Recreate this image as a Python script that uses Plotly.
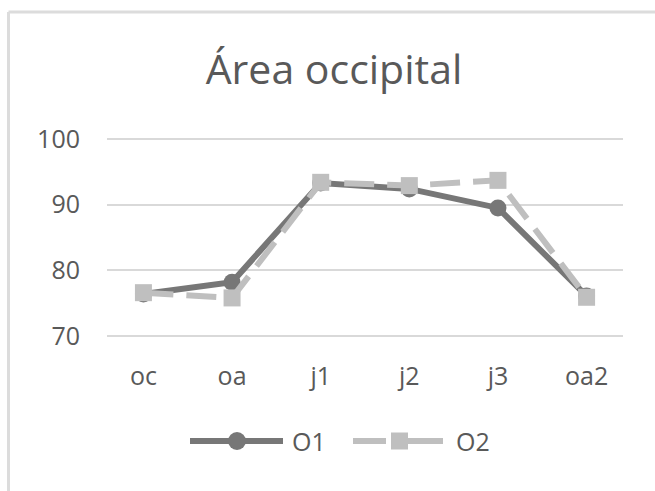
import plotly.graph_objects as go

# Categories and series values
categories = ["oc", "oa", "j1", "j2", "j3", "oa2"]
series_names = ["O1", "O2"]
o1_values = [76.4, 78.2, 93.3, 92.4, 89.5, 76.1]
o2_values = [76.6, 75.8, 93.4, 92.9, 93.7, 75.9]
y_ticks = [70, 80, 90, 100]

W, H = 655, 491
L, R, T, B = 107, 32, 137, 153
PW, PH = W - L - R, H - T - B

O1_COLOR = "#777777"
O2_COLOR = "#bfbfbf"
TEXT = "#595959"
FONT = "Open Sans"
DASH = "30px,13px"


def px_x(px):
    return (px - L) / PW


def px_y(py):
    return (H - B - py) / PH


fig = go.Figure()
fig.add_trace(go.Scatter(
    x=categories, y=o1_values, name=series_names[0], mode="lines+markers",
    line=dict(color=O1_COLOR, width=6),
    marker=dict(symbol="circle", size=17, color=O1_COLOR),
    showlegend=False,
))
fig.add_trace(go.Scatter(
    x=categories, y=o2_values, name=series_names[1], mode="lines+markers",
    line=dict(color=O2_COLOR, width=6, dash=DASH),
    marker=dict(symbol="square", size=17, color=O2_COLOR),
    showlegend=False,
))

shapes = []
# chart-area border (top and left edges)
shapes.append(dict(type="line", xref="paper", yref="paper",
                   x0=px_x(8.5), x1=px_x(700), y0=px_y(12), y1=px_y(12),
                   line=dict(color="#dcdcdc", width=3)))
shapes.append(dict(type="line", xref="paper", yref="paper",
                   x0=px_x(8.5), x1=px_x(8.5), y0=px_y(12), y1=px_y(520),
                   line=dict(color="#dcdcdc", width=3)))

# legend: O1
ly = 441
shapes.append(dict(type="line", xref="paper", yref="paper",
                   x0=px_x(190), x1=px_x(283), y0=px_y(ly), y1=px_y(ly),
                   line=dict(color=O1_COLOR, width=6)))
shapes.append(dict(type="circle", xref="paper", yref="paper",
                   x0=px_x(228), x1=px_x(246), y0=px_y(ly + 9), y1=px_y(ly - 9),
                   fillcolor=O1_COLOR, line=dict(width=0)))
# legend: O2
shapes.append(dict(type="line", xref="paper", yref="paper",
                   x0=px_x(353), x1=px_x(386), y0=px_y(ly), y1=px_y(ly),
                   line=dict(color=O2_COLOR, width=6)))
shapes.append(dict(type="line", xref="paper", yref="paper",
                   x0=px_x(408), x1=px_x(443), y0=px_y(ly), y1=px_y(ly),
                   line=dict(color=O2_COLOR, width=6)))
shapes.append(dict(type="rect", xref="paper", yref="paper",
                   x0=px_x(391), x1=px_x(408), y0=px_y(ly + 8.5), y1=px_y(ly - 8.5),
                   fillcolor=O2_COLOR, line=dict(width=0)))

annotations = [
    dict(text=series_names[0], xref="paper", yref="paper", x=px_x(290), y=px_y(ly),
         xanchor="left", yanchor="middle", showarrow=False,
         font=dict(family=FONT, size=25, color=TEXT)),
    dict(text=series_names[1], xref="paper", yref="paper", x=px_x(454), y=px_y(ly),
         xanchor="left", yanchor="middle", showarrow=False,
         font=dict(family=FONT, size=25, color=TEXT)),
]

fig.update_layout(
    width=W, height=H,
    margin=dict(l=L, r=R, t=T, b=B, pad=0),
    paper_bgcolor="white", plot_bgcolor="white",
    title=dict(text="Área occipital", x=334 / W, xref="container", xanchor="center",
               y=1 - 70 / H, yref="container", yanchor="middle",
               font=dict(family=FONT, size=41, color=TEXT)),
    shapes=shapes, annotations=annotations,
    showlegend=False,
)
fig.update_xaxes(
    type="category", categoryorder="array", categoryarray=categories,
    showgrid=False, showline=False, zeroline=False, ticks="",
    tickfont=dict(family=FONT, size=25, color=TEXT),
    ticklabelstandoff=21,
)
fig.update_yaxes(
    range=[69.7, 100.3], tickvals=y_ticks, showgrid=True, gridcolor="#d9d9d9", gridwidth=2,
    zeroline=False, showline=False, ticks="",
    tickfont=dict(family=FONT, size=25, color=TEXT),
    ticklabelstandoff=26,
)

fig.write_html("out.html")
